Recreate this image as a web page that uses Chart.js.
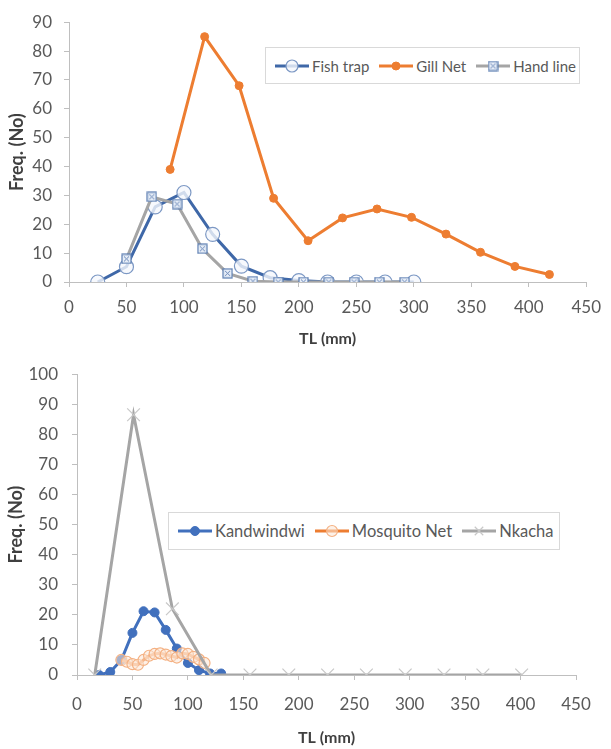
<!DOCTYPE html>
<html>
<head>
<meta charset="utf-8">
<script src="https://cdn.jsdelivr.net/npm/chart.js@4"></script>
<style>
  html, body { margin: 0; padding: 0; background: #fff; }
  #wrap { position: relative; width: 611px; height: 749px; overflow: hidden; }
  canvas.chart { position: absolute; left: 0; }
  .legend {
    position: absolute; box-sizing: border-box;
    border: 1px solid #d9d9d9; background: #fff;
    display: flex; align-items: center;
    font-family: Lato, "Open Sans", sans-serif; color: #595959;
    padding-left: 9px; white-space: nowrap;
  }
  .legend .item { display: flex; align-items: center; margin-right: 10px; }
  .legend canvas { margin-right: 3px; }
</style>
</head>
<body>
<div id="wrap">
  <canvas id="chart-top" class="chart" width="611" height="350" style="top:0"></canvas>
  <canvas id="chart-bottom" class="chart" width="611" height="399" style="top:350px"></canvas>
  <div id="legend-top" class="legend" style="left:265px;top:47px;width:315px;height:37px;font-size:15px"></div>
  <div id="legend-bottom" class="legend" style="left:168px;top:512px;width:392px;height:38px;font-size:16.5px"></div>
</div>
<script>
// ---- top chart: TL vs Freq by gear ----
const fishTrapTL = [25, 50, 75, 100, 125, 150, 175, 200, 225, 250, 275, 300];
const fishTrapFreq = [0, 5.3, 26, 31, 16.5, 5.5, 1.5, 0.5, 0, 0, 0, 0];

const gillNetTL = [88, 118, 148, 178, 208, 238, 268, 298, 328, 358, 388, 418];
const gillNetFreq = [39, 85, 68, 29, 14.3, 22.2, 25.3, 22.4, 16.6, 10.3, 5.4, 2.6];

const handLineTL = [50, 72, 94, 116, 138, 160, 182, 204, 226, 248, 270, 292];
const handLineFreq = [8, 29.5, 27, 11.5, 3, 0.3, 0, 0, 0, 0, 0, 0];

// ---- bottom chart ----
const kandwindwiTL = [20, 30, 40, 50, 60, 70, 80, 90, 100, 110, 120, 130];
const kandwindwiFreq = [0, 1, 5, 14, 21.2, 20.8, 15, 8.8, 4, 1.6, 0.5, 0.5];

const mosquitoTL = [40, 45, 50, 55, 60, 65, 70, 75, 80, 85, 90, 95, 100, 105, 110, 115];
const mosquitoFreq = [5, 4.4, 3.6, 3.4, 5, 6.4, 7, 7.2, 6.8, 6.3, 5.8, 7.2, 7, 6, 5.2, 4];

const nkachaTL = [16, 51, 86, 121, 156, 191, 226, 261, 296, 331, 366, 401];
const nkachaFreq = [0, 86.5, 22, 0, 0, 0, 0, 0, 0, 0, 0, 0];

const topXTicks = [0, 450, 50];     // min, max, step
const topYTicks = [0, 90, 10];
const bottomXTicks = [0, 450, 50];
const bottomYTicks = [0, 100, 10];

const FONT = 'Lato, "Open Sans", sans-serif';
const TICK_COLOR = "#595959";
const AXIS_COLOR = "#bfbfbf";

function toPoints(xs, ys) {
  return xs.map((x, i) => ({ x, y: ys[i] }));
}

// square marker with an x inside (hand line)
function makeBoxX() {
  const c = document.createElement("canvas");
  c.width = 11;
  c.height = 11;
  const g = c.getContext("2d");
  g.fillStyle = "#e6edf7";
  g.fillRect(1, 1, 9, 9);
  g.strokeStyle = "#5b7db1";
  g.lineWidth = 1.2;
  g.strokeRect(1, 1, 9, 9);
  g.lineWidth = 0.9;
  g.beginPath();
  g.moveTo(3, 3); g.lineTo(8, 8);
  g.moveTo(8, 3); g.lineTo(3, 8);
  g.stroke();
  return c;
}
const boxX = makeBoxX();

const seriesTop = [
  {
    label: "Fish trap",
    data: toPoints(fishTrapTL, fishTrapFreq),
    borderColor: "#3f68a8",
    borderWidth: 3,
    pointStyle: "circle",
    pointRadius: 7,
    pointBackgroundColor: "rgba(245,247,252,0.8)",
    pointBorderColor: "#7c98c4",
    pointBorderWidth: 1.2,
    order: 2,
  },
  {
    label: "Gill Net",
    data: toPoints(gillNetTL, gillNetFreq),
    borderColor: "#ed7d31",
    borderWidth: 3,
    pointStyle: "circle",
    pointRadius: 4,
    pointBackgroundColor: "#ed7d31",
    pointBorderColor: "#ed7d31",
    pointBorderWidth: 1,
    order: 3,
  },
  {
    label: "Hand line",
    data: toPoints(handLineTL, handLineFreq),
    borderColor: "#a5a5a5",
    borderWidth: 3,
    pointStyle: boxX,
    pointRadius: 5,
    order: 1,
  },
];

const seriesBottom = [
  {
    label: "Kandwindwi",
    data: toPoints(kandwindwiTL, kandwindwiFreq),
    borderColor: "#4170bd",
    borderWidth: 3,
    pointStyle: "circle",
    pointRadius: 4.5,
    pointBackgroundColor: "#4170bd",
    pointBorderColor: "#4170bd",
    pointBorderWidth: 1,
    order: 3,
  },
  {
    label: "Mosquito Net",
    data: toPoints(mosquitoTL, mosquitoFreq),
    borderColor: "#ed7d31",
    borderWidth: 3,
    pointStyle: "circle",
    pointRadius: 5.5,
    pointBackgroundColor: "rgba(251,229,214,0.55)",
    pointBorderColor: "#f4b183",
    pointBorderWidth: 1.2,
    order: 2,
  },
  {
    label: "Nkacha",
    data: toPoints(nkachaTL, nkachaFreq),
    borderColor: "#a5a5a5",
    borderWidth: 3,
    pointStyle: "crossRot",
    pointRadius: 9,
    pointBorderColor: "#c8c8c8",
    pointBorderWidth: 1.2,
    order: 1,
  },
];

function axisOpts(ticks, extra) {
  return Object.assign(
    {
      type: "linear",
      min: ticks[0],
      max: ticks[1],
      grid: {
        drawOnChartArea: false,
        drawTicks: true,
        tickLength: 5,
        color: AXIS_COLOR,
      },
      border: { display: true, color: AXIS_COLOR, width: 1 },
    },
    extra
  );
}

function makeChart(id, datasets, cfg) {
  const ctx = document.getElementById(id).getContext("2d");
  return new Chart(ctx, {
    type: "line",
    data: {
      datasets: datasets.map((d) => Object.assign({ fill: false, tension: 0 }, d)),
    },
    options: {
      responsive: false,
      animation: false,
      layout: { padding: cfg.padding },
      plugins: { legend: { display: false }, tooltip: { enabled: false } },
      scales: {
        x: axisOpts(cfg.xTicks, {
          ticks: {
            stepSize: cfg.xTicks[2],
            color: TICK_COLOR,
            font: { family: FONT, size: 17 },
            padding: cfg.xTickPad,
            maxRotation: 0,
          },
          title: {
            display: true,
            text: "TL (mm)",
            color: "#404040",
            font: { family: FONT, size: 16, weight: "bold" },
            padding: { top: 0, bottom: cfg.xTitlePad },
          },
          afterFit: (s) => { s.height = cfg.xHeight; },
        }),
        y: axisOpts(cfg.yTicks, {
          ticks: {
            stepSize: cfg.yTicks[2],
            color: TICK_COLOR,
            font: { family: FONT, size: 17 },
            padding: cfg.yTickPad,
          },
          title: {
            display: true,
            text: "Freq. (No)",
            color: "#404040",
            font: { family: FONT, size: 18, weight: "bold" },
            padding: { top: cfg.yTitlePad, bottom: 0 },
          },
          afterFit: (s) => { s.width = cfg.yWidth; },
        }),
      },
    },
  });
}

makeChart("chart-top", seriesTop, {
  padding: { left: 0, right: 15, top: 17, bottom: 0 },
  xTicks: topXTicks,
  yTicks: topYTicks,
  xHeight: 68,
  yWidth: 69,
  xTickPad: 10,
  xTitlePad: 2,
  yTickPad: 12,
  yTitlePad: 6,
});

makeChart("chart-bottom", seriesBottom, {
  padding: { left: 0, right: 35, top: 13, bottom: 0 },
  xTicks: bottomXTicks,
  yTicks: bottomYTicks,
  xHeight: 74,
  yWidth: 77,
  xTickPad: 14,
  xTitlePad: 2,
  yTickPad: 14,
  yTitlePad: 5,
});

// legends (line + marker, like the spreadsheet legend)
function buildLegend(el, datasets) {
  datasets.forEach((d) => {
    const item = document.createElement("div");
    item.className = "item";
    const c = document.createElement("canvas");
    c.width = 34;
    c.height = 18;
    const g = c.getContext("2d");
    g.strokeStyle = d.borderColor;
    g.lineWidth = d.borderWidth;
    g.beginPath();
    g.moveTo(0, 9);
    g.lineTo(34, 9);
    g.stroke();
    g.fillStyle = d.pointBackgroundColor || "#fff";
    g.strokeStyle = d.pointBorderColor || d.borderColor;
    g.lineWidth = d.pointBorderWidth || 1;
    Chart.helpers.drawPoint(g, {
      pointStyle: d.pointStyle,
      radius: Math.min(d.pointRadius, 6),
      rotation: 0,
      borderWidth: d.pointBorderWidth || 1,
    }, 17, 9);
    const span = document.createElement("span");
    span.textContent = d.label;
    item.appendChild(c);
    item.appendChild(span);
    el.appendChild(item);
  });
}

buildLegend(document.getElementById("legend-top"), seriesTop);
buildLegend(document.getElementById("legend-bottom"), seriesBottom);
</script>
</body>
</html>
